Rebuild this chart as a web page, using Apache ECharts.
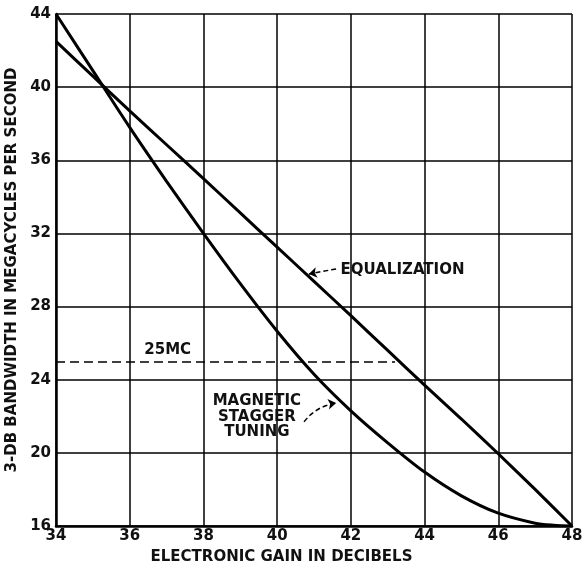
<!DOCTYPE html>
<html>
<head>
<meta charset="utf-8">
<script src="https://cdn.jsdelivr.net/npm/echarts@6/dist/echarts.min.js"></script>
<style>html,body{margin:0;padding:0;background:#fff}#c{width:586px;height:567px}</style>
</head>
<body>
<div id="c"></div>
<script>
const xTicks = [34, 36, 38, 40, 42, 44, 46, 48];
const yTicks = [16, 20, 24, 28, 32, 36, 40, 44];
const equalizationX = [34, 35, 36, 37, 38, 39, 40, 41, 42, 43, 44, 45, 46, 47, 48];
const equalizationY = [42.5, 40.6, 38.7, 36.85, 35.0, 33.12, 31.25, 29.38, 27.5, 25.6, 23.7, 21.85, 19.95, 18.0, 16.0];
const staggerX = [34, 35, 36, 37, 38, 39, 40, 41, 42, 43, 44, 45, 46, 47, 47.5, 48];
const staggerY = [44, 40.9, 37.8, 34.85, 32.0, 29.25, 26.65, 24.3, 22.3, 20.55, 18.95, 17.65, 16.7, 16.15, 16.04, 16.0];
const refLevel = 25;
const refStart = 34;
const refEnd = 43.2;
const labelEq = 'EQUALIZATION';
const labelRef = '25MC';
const labelStagger = 'MAGNETIC\nSTAGGER\nTUNING';
const xName = 'ELECTRONIC GAIN IN DECIBELS';
const yName = '3-DB BANDWIDTH IN MEGACYCLES PER SECOND';

const font = 'DejaVu Sans';
const ink = '#111';
const chart = echarts.init(document.getElementById('c'));
const zip = (xs, ys) => xs.map((x, i) => [x, ys[i]]);

chart.setOption({
  animation: false,
  backgroundColor: '#fff',
  grid: { left: 56, right: 14, top: 14, bottom: 41, containLabel: false, outerBoundsMode: 'none' },
  xAxis: {
    type: 'value', min: xTicks[0], max: xTicks[xTicks.length - 1], interval: 2,
    name: xName, nameLocation: 'middle', nameGap: 24,
    nameTextStyle: { fontFamily: font, fontSize: 15, fontWeight: 'bold', color: ink, padding: [0, 65, 0, 0], verticalAlign: 'top' },
    axisLine: { show: true, lineStyle: { color: '#000', width: 2.5 } },
    axisTick: { show: false },
    axisLabel: { fontFamily: font, fontSize: 15, fontWeight: 'bold', color: ink, margin: 3 },
    splitLine: { show: true, lineStyle: { color: '#000', width: 1.5 } }
  },
  yAxis: {
    type: 'value', min: yTicks[0], max: yTicks[yTicks.length - 1], interval: 4,
    name: yName, nameLocation: 'middle', nameGap: 36, nameRotate: 90,
    nameTextStyle: { fontFamily: font, fontSize: 15, fontWeight: 'bold', color: ink },
    axisLine: { show: true, lineStyle: { color: '#000', width: 2.5 } },
    axisTick: { show: false },
    axisLabel: { fontFamily: font, fontSize: 15, fontWeight: 'bold', color: ink, margin: 5 },
    splitLine: { show: true, lineStyle: { color: '#000', width: 1.5 } }
  },
  series: [
    {
      name: 'Equalization', type: 'line', data: zip(equalizationX, equalizationY),
      smooth: 0.2, symbol: 'none', lineStyle: { color: '#000', width: 3 },
      markLine: {
        silent: true, symbol: ['none', 'none'],
        lineStyle: { color: '#000', width: 1.5, type: [9, 5] },
        label: { show: false },
        data: [[{ coord: [refStart, refLevel] }, { coord: [refEnd, refLevel] }]]
      },
      markPoint: {
        symbol: 'circle', symbolSize: 0,
        label: { show: true, fontFamily: font, fontSize: 15, fontWeight: 'bold', color: ink },
        data: [
          { coord: [41.72, 30.0], label: { formatter: labelEq, position: 'right', distance: 0 } },
          { coord: [37.03, 25.63], label: { formatter: labelRef, position: 'inside' } },
          { coord: [39.45, 21.98], label: { formatter: labelStagger, position: 'inside', lineHeight: 15.5, align: 'center' } }
        ]
      }
    },
    {
      name: 'Magnetic stagger tuning', type: 'line', data: zip(staggerX, staggerY),
      smooth: 0.3, symbol: 'none', lineStyle: { color: '#000', width: 3 }
    },
    {
      type: 'lines', coordinateSystem: 'cartesian2d', silent: true,
      symbol: ['none', 'arrow'], symbolSize: 8,
      lineStyle: { color: '#000', opacity: 1, width: 1.5, type: [5, 3] },
      data: [
        { coords: [[41.6, 30.06], [40.86, 29.78]], lineStyle: { curveness: 0 } },
        { coords: [[40.73, 21.7], [41.6, 22.72]], lineStyle: { curveness: 0.2 } }
      ]
    }
  ]
});
</script>
</body>
</html>
